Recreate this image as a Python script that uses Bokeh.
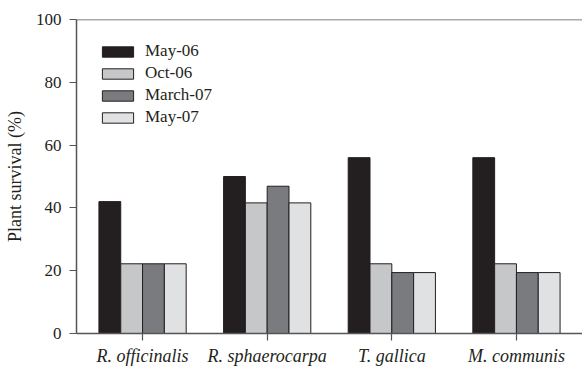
from bokeh.plotting import figure
from bokeh.models import ColumnDataSource, FactorRange, Range1d, FixedTicker, Span, Legend, LegendItem
from bokeh.transform import dodge
from bokeh.embed import file_html
from bokeh.resources import INLINE

# Plant survival (%) per species at each survey date
species = ["R. officinalis", "R. sphaerocarpa", "T. gallica", "M. communis"]
may_06 = [42.0, 50.0, 56.0, 56.0]
oct_06 = [22.2, 41.6, 22.2, 22.2]
march_07 = [22.2, 46.9, 19.4, 19.4]
may_07 = [22.2, 41.6, 19.4, 19.4]
series_names = ["May-06", "Oct-06", "March-07", "May-07"]
y_ticks = [0, 20, 40, 60, 80, 100]

FONT = "Liberation Serif"
INK = "#231f20"
AXIS = "#555555"

source = ColumnDataSource(dict(
    species=species, may_06=may_06, oct_06=oct_06,
    march_07=march_07, may_07=may_07,
))

p = figure(
    width=582, height=369,
    x_range=FactorRange(*species, range_padding=0.015),
    y_range=Range1d(0, 100),
    output_backend="svg", toolbar_location=None,
    min_border_left=76, min_border_top=19, min_border_right=0, min_border_bottom=36,
)
p.outline_line_color = None
p.xgrid.grid_line_color = None
p.ygrid.grid_line_color = None
p.background_fill_color = "white"
p.border_fill_color = "white"

bar_w = 0.175
offsets = [-0.2625, -0.0875, 0.0875, 0.2625]
fields = ["may_06", "oct_06", "march_07", "may_07"]
colors = [INK, "#c6c7c9", "#7a7b7f", "#e0e1e3"]

renderers = []
for name, field, off, col in zip(series_names, fields, offsets, colors):
    r = p.vbar(
        x=dodge("species", off, range=p.x_range), top=field, width=bar_w,
        source=source, fill_color=col, line_color=INK, line_width=1,
    )
    renderers.append((name, r))

# top edge of the plotting box
p.add_layout(Span(location=100, dimension="width", line_color=AXIS, line_width=1.5))

legend = Legend(
    items=[LegendItem(label=n, renderers=[r]) for n, r in renderers],
    location="top_left", margin=22, padding=0, spacing=2,
    glyph_width=39, glyph_height=13, label_height=13, label_standoff=8,
    label_text_font=FONT, label_text_font_size="17px", label_text_color=INK,
    border_line_color=None, background_fill_alpha=0,
)
p.add_layout(legend)

# y axis
p.yaxis.ticker = FixedTicker(ticks=y_ticks)
p.yaxis.axis_label = "Plant survival (%)"
p.yaxis.axis_label_text_font = FONT
p.yaxis.axis_label_text_font_style = "normal"
p.yaxis.axis_label_text_font_size = "18px"
p.yaxis.axis_label_text_color = INK
p.yaxis.axis_label_standoff = 8
p.yaxis.major_label_text_font = FONT
p.yaxis.major_label_text_font_size = "17px"
p.yaxis.major_label_text_color = INK
p.yaxis.major_label_standoff = 8
p.yaxis.minor_tick_line_color = None

# x axis
p.xaxis.major_label_text_font = FONT
p.xaxis.major_label_text_font_style = "italic"
p.xaxis.major_label_text_font_size = "18px"
p.xaxis.major_label_text_color = INK
p.xaxis.major_label_standoff = 5

for ax in (p.xaxis, p.yaxis):
    ax.axis_line_color = AXIS
    ax.axis_line_width = 1.5
    ax.major_tick_line_color = AXIS
    ax.major_tick_line_width = 1.2
    ax.major_tick_out = 7
    ax.major_tick_in = 0

open("out.html", "w").write(file_html(p, INLINE))
